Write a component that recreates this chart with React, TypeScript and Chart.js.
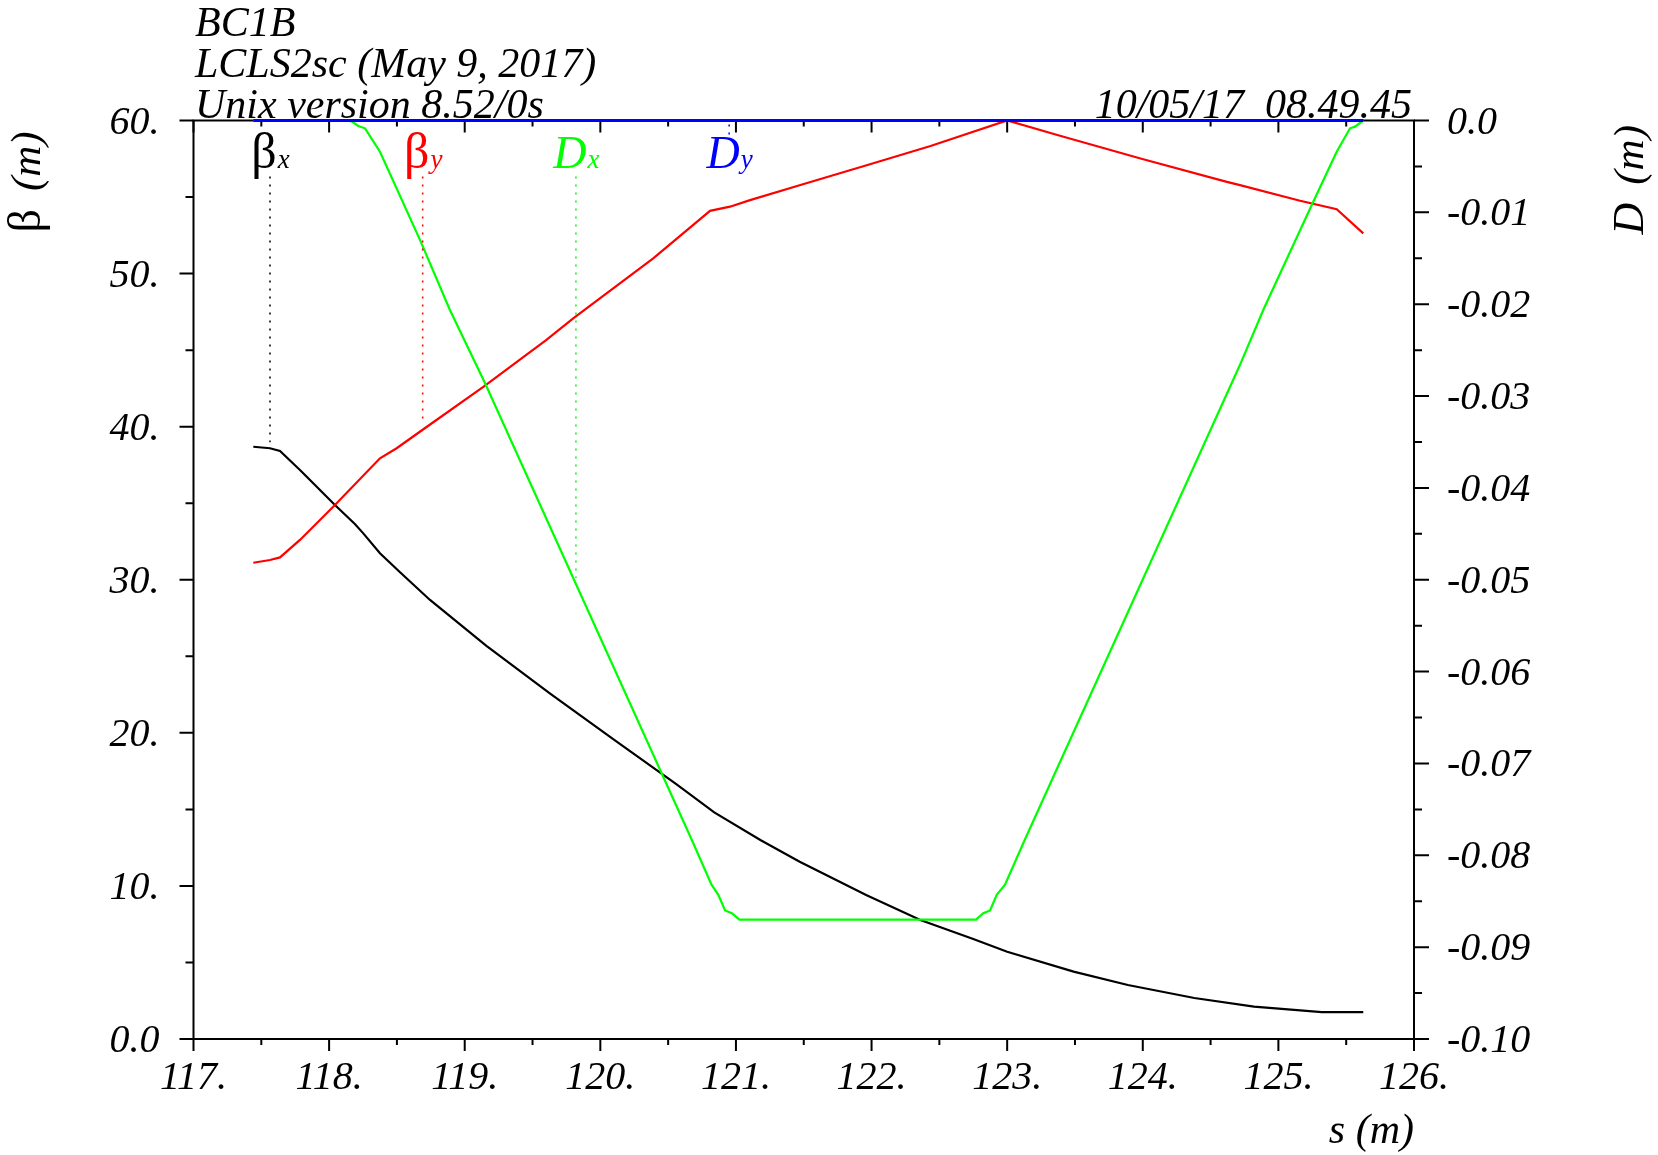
import React, { useEffect, useRef } from "react";
import { Chart, registerables } from "chart.js";

Chart.register(...registerables);

// ---------- data ----------
const BETX_S = [117.441, 117.564, 117.638, 117.785, 117.835, 118.043, 118.19, 118.252, 118.375, 118.523, 118.744, 119.16, 119.63, 120.1, 120.56, 120.84, 121.18, 121.47, 121.96, 122.36, 122.75, 123.0, 123.49, 123.89, 124.38, 124.82, 125.32, 125.626];
const BETX = [38.69, 38.59, 38.41, 37.17, 36.73, 34.88, 33.64, 33.03, 31.73, 30.49, 28.68, 25.68, 22.56, 19.55, 16.65, 14.8, 13.0, 11.58, 9.4, 7.77, 6.53, 5.7, 4.4, 3.53, 2.68, 2.11, 1.76, 1.76];

const BETY_S = [117.441, 117.564, 117.638, 117.785, 118.043, 118.375, 118.498, 118.695, 119.137, 119.6, 119.8, 120.39, 120.809, 120.956, 121.104, 121.5, 121.97, 122.435, 123.0, 123.37, 123.99, 124.62, 124.717, 125.16, 125.43, 125.626];
const BETY = [31.11, 31.29, 31.46, 32.6, 34.88, 37.93, 38.59, 39.83, 42.6, 45.66, 47.08, 51.0, 54.1, 54.37, 54.8, 55.85, 57.09, 58.33, 60.0, 59.05, 57.5, 55.99, 55.78, 54.76, 54.2, 52.63];

const DX_S = [117.441, 118.12, 118.167, 118.215, 118.265, 118.375, 118.67, 118.89, 119.15, 120.674, 120.82, 120.87, 120.92, 120.97, 121.025, 122.77, 122.824, 122.874, 122.923, 122.984, 123.13, 124.717, 124.889, 125.246, 125.43, 125.528, 125.565, 125.626];
const DX = [0, 0, -0.0001, -0.0006, -0.00085, -0.0034, -0.013, -0.0206, -0.0286, -0.0783, -0.0832, -0.0843, -0.086, -0.0863, -0.087, -0.087, -0.0863, -0.086, -0.0843, -0.0832, -0.0783, -0.0266, -0.0206, -0.0092, -0.0034, -0.00085, -0.00067, 0];

const DY_S = [117.441, 125.626];
const DY = [0, 0];

// axis ticks
const S_TICKS = [117, 118, 119, 120, 121, 122, 123, 124, 125, 126];
const S_TICK_LABELS = ["117.", "118.", "119.", "120.", "121.", "122.", "123.", "124.", "125.", "126."];
const BETA_TICKS = [0, 10, 20, 30, 40, 50, 60];
const BETA_TICK_LABELS = ["0.0", "10.", "20.", "30.", "40.", "50.", "60."];
const D_TICKS = [0, -0.01, -0.02, -0.03, -0.04, -0.05, -0.06, -0.07, -0.08, -0.09, -0.1];
const D_TICK_LABELS = ["0.0", "-0.01", "-0.02", "-0.03", "-0.04", "-0.05", "-0.06", "-0.07", "-0.08", "-0.09", "-0.10"];

// header texts
const TITLE_LINES = ["BC1B", "LCLS2sc (May 9, 2017)", "Unix version 8.52/0s"];
const TIMESTAMP = "10/05/17  08.49.45";

// legend labels (main symbol, subscript) and their s positions
const LEGEND_MAIN = ["\u03B2", "\u03B2", "D", "D"];
const LEGEND_SUB = ["x", "y", "x", "y"];
const LEGEND_S = [117.564, 118.69, 119.82, 120.95];

const COLORS = ["#000000", "#ff0000", "#00ff00", "#0000ff"];
const SERIES_S = [BETX_S, BETY_S, DX_S, DY_S];
const SERIES_V = [BETX, BETY, DX, DY];
const SERIES_AXIS = ["y", "y", "y2", "y2"];

const FONT = '"Liberation Serif", "Times New Roman", serif';

function interp(xs: number[], ys: number[], s: number) {
  if (s <= xs[0]) return ys[0];
  for (let i = 1; i < xs.length; i++) {
    if (s <= xs[i]) {
      const t = (s - xs[i - 1]) / (xs[i] - xs[i - 1]);
      return ys[i - 1] + t * (ys[i] - ys[i - 1]);
    }
  }
  return ys[ys.length - 1];
}

function mids(arr: number[]) {
  const out: number[] = [];
  for (let i = 1; i < arr.length; i++) out.push((arr[i - 1] + arr[i]) / 2);
  return out;
}

const decorPlugin = {
  id: "madDecor",
  beforeDatasetsDraw(chart: any) {
    const { ctx, chartArea: a, scales } = chart;
    const xs = scales.x, yl = scales.y, yr = scales.y2;
    ctx.save();
    ctx.strokeStyle = "#000";
    ctx.lineWidth = 2;
    ctx.lineCap = "butt";
    ctx.beginPath();
    ctx.rect(a.left, a.top, a.right - a.left, a.bottom - a.top);
    ctx.stroke();

    ctx.beginPath();
    // x ticks bottom (outward) and top (inward)
    S_TICKS.forEach((v) => {
      const px = xs.getPixelForValue(v);
      ctx.moveTo(px, a.bottom);
      ctx.lineTo(px, a.bottom + 12);
      ctx.moveTo(px, a.top);
      ctx.lineTo(px, a.top + 12);
    });
    mids(S_TICKS).forEach((v) => {
      const px = xs.getPixelForValue(v);
      ctx.moveTo(px, a.bottom);
      ctx.lineTo(px, a.bottom + 6);
      ctx.moveTo(px, a.top);
      ctx.lineTo(px, a.top + 6);
    });
    // left ticks
    BETA_TICKS.forEach((v) => {
      const py = yl.getPixelForValue(v);
      ctx.moveTo(a.left - 14, py);
      ctx.lineTo(a.left, py);
    });
    mids(BETA_TICKS).forEach((v) => {
      const py = yl.getPixelForValue(v);
      ctx.moveTo(a.left - 8, py);
      ctx.lineTo(a.left, py);
    });
    // right ticks
    D_TICKS.forEach((v) => {
      const py = yr.getPixelForValue(v);
      ctx.moveTo(a.right, py);
      ctx.lineTo(a.right + 15, py);
    });
    mids(D_TICKS).forEach((v) => {
      const py = yr.getPixelForValue(v);
      ctx.moveTo(a.right, py);
      ctx.lineTo(a.right + 8, py);
    });
    ctx.stroke();
    ctx.restore();
  },
  afterDatasetsDraw(chart: any) {
    const { ctx, chartArea: a, scales } = chart;
    const xs = scales.x, yl = scales.y, yr = scales.y2;
    ctx.save();
    ctx.fillStyle = "#000";
    ctx.textBaseline = "alphabetic";
    ctx.font = `italic 40px ${FONT}`;

    // bottom labels
    ctx.textAlign = "center";
    S_TICKS.forEach((v, i) => {
      ctx.fillText(S_TICK_LABELS[i], xs.getPixelForValue(v), a.bottom + 50);
    });
    // left labels
    ctx.textAlign = "right";
    BETA_TICKS.forEach((v, i) => {
      ctx.fillText(BETA_TICK_LABELS[i], a.left - 34, yl.getPixelForValue(v) + 13);
    });
    // right labels
    ctx.textAlign = "left";
    D_TICKS.forEach((v, i) => {
      ctx.fillText(D_TICK_LABELS[i], a.right + 33, yr.getPixelForValue(v) + 13);
    });

    // header
    ctx.textAlign = "left";
    ctx.font = `italic 42px ${FONT}`;
    TITLE_LINES.forEach((t, i) => {
      ctx.fillText(t, a.left + 1.5, a.top - 84.5 + i * 41);
    });
    ctx.textAlign = "right";
    ctx.fillText(TIMESTAMP, a.right - 2, a.top - 2.5);

    // x-axis title
    ctx.font = `italic 42px ${FONT}`;
    ctx.textAlign = "right";
    ctx.fillText("s (m)", a.right, a.bottom + 104);

    // rotated axis titles
    const drawRot = (x: number, y: number, main: string, mainFont: string) => {
      ctx.save();
      ctx.translate(x, y);
      ctx.rotate(-Math.PI / 2);
      ctx.textAlign = "left";
      ctx.font = mainFont;
      ctx.fillText(main, 0, 0);
      const w = ctx.measureText(main).width;
      ctx.font = `italic 43px ${FONT}`;
      ctx.fillText("(m)", w + 18, 0);
      ctx.restore();
    };
    drawRot(40, a.top + 112, "\u03B2", `46px ${FONT}`);
    drawRot(1643, a.top + 114, "D", `italic 44px ${FONT}`);

    // legend labels with dotted leader lines
    const labelBase = a.top + 47;
    LEGEND_S.forEach((s, i) => {
      const px = xs.getPixelForValue(s);
      const mainFont = i < 2 ? `50px ${FONT}` : `italic 46px ${FONT}`;
      const subFont = `italic 27px ${FONT}`;
      ctx.font = mainFont;
      const w1 = ctx.measureText(LEGEND_MAIN[i]).width;
      ctx.font = subFont;
      const w2 = ctx.measureText(LEGEND_SUB[i]).width;
      const x0 = px - (w1 + w2) / 2;
      ctx.fillStyle = COLORS[i];
      ctx.textAlign = "left";
      ctx.font = mainFont;
      ctx.fillText(LEGEND_MAIN[i], x0, labelBase);
      ctx.font = subFont;
      ctx.fillText(LEGEND_SUB[i], x0 + w1 + 1, labelBase);

      const scale = SERIES_AXIS[i] === "y" ? yl : yr;
      const cy = scale.getPixelForValue(interp(SERIES_S[i], SERIES_V[i], s));
      ctx.strokeStyle = COLORS[i];
      ctx.lineWidth = 1.5;
      ctx.setLineDash([2, 6]);
      ctx.beginPath();
      if (cy > labelBase + 12) {
        ctx.moveTo(px, labelBase + 9);
        ctx.lineTo(px, cy - 6);
      } else {
        ctx.moveTo(px, labelBase - 33);
        ctx.lineTo(px, cy + 1);
      }
      ctx.stroke();
      ctx.setLineDash([]);
    });
    ctx.restore();
  },
};

export default function App() {
  const ref = useRef<HTMLCanvasElement>(null);
  useEffect(() => {
    document.body.style.margin = "0";
    const canvas = ref.current;
    if (!canvas) return;
    const datasets = SERIES_S.map((xsArr, i) => ({
      label: ["betx", "bety", "dx", "dy"][i],
      data: xsArr.map((s, j) => ({ x: s, y: SERIES_V[i][j] })),
      borderColor: COLORS[i],
      backgroundColor: COLORS[i],
      borderWidth: i === 3 ? 3 : 2.2,
      pointRadius: 0,
      tension: 0,
      fill: false,
      clip: 4,
      yAxisID: SERIES_AXIS[i],
      order: 3 - i,
    }));
    const chart = new Chart(canvas, {
      type: "line",
      data: { datasets },
      options: {
        animation: false,
        responsive: false,
        maintainAspectRatio: false,
        devicePixelRatio: 1,
        layout: { padding: { left: 193.5, right: 244, top: 120.5, bottom: 116 } },
        plugins: { legend: { display: false }, tooltip: { enabled: false } },
        scales: {
          x: { type: "linear", min: 117, max: 126, display: false },
          y: { type: "linear", position: "left", min: 0, max: 60, display: false },
          y2: { type: "linear", position: "right", min: -0.1, max: 0, display: false },
        },
      },
      plugins: [decorPlugin],
    } as any);
    return () => chart.destroy();
  }, []);
  return (
    <div style={{ position: "absolute", left: 0, top: 0, width: 1658, height: 1155, background: "#fff" }}>
      <canvas ref={ref} width={1658} height={1155} style={{ display: "block", width: 1658, height: 1155 }} />
    </div>
  );
}
